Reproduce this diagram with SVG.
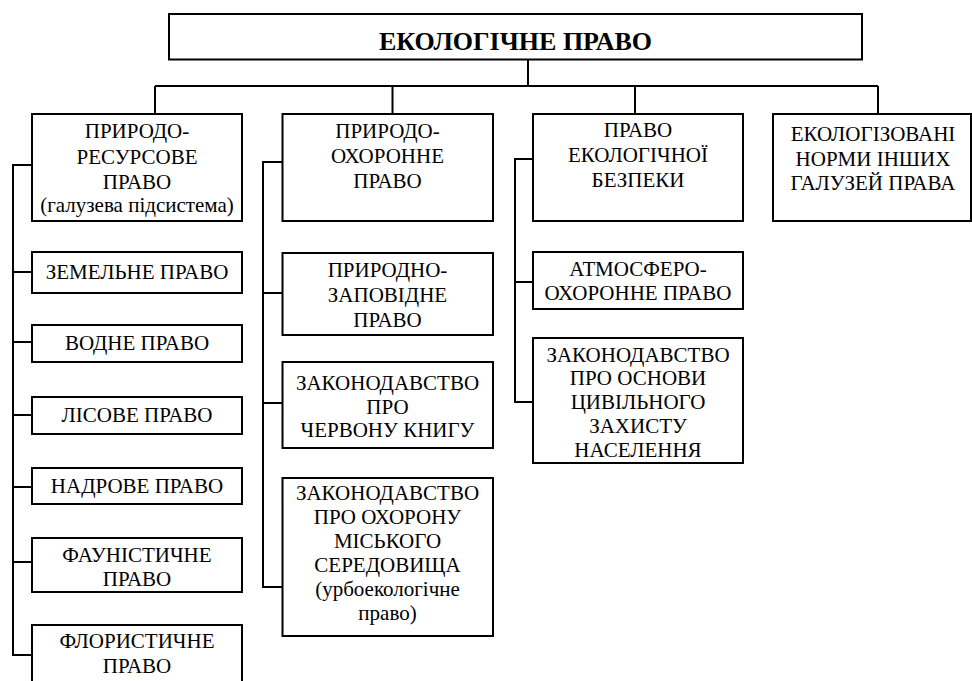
<svg xmlns="http://www.w3.org/2000/svg" width="972" height="681" viewBox="0 0 972 681">
<style>
.b{fill:#fff;stroke:#000;stroke-width:2}
.t{font-size:21px;fill:#000;text-anchor:middle}
.h{font-size:26px;font-weight:bold;fill:#000;text-anchor:middle}
.c{fill:none;stroke:#000;stroke-width:2}
</style>
<rect width="972" height="681" fill="#fff"/>
<g id="connectors" class="c">
<path d="M528 59.5V86M155 86H878M155 86V114M392.5 86V114M635 86V114M878 86V114"/>
<path d="M32 165H13V655H32M13 272H32M13 342H32M13 415H32M13 487H32M13 562H32"/>
<path d="M282.5 162H263V587H282.5M263 293H282.5M263 403H282.5"/>
<path d="M533 159H515V402H533M515 282H533"/>
</g>
<g font-family="Liberation Serif, Tinos, Times New Roman, DejaVu Serif, serif">
<g id="root"><rect class="b" x="169" y="14" width="693" height="45.5"/><text class="h" x="515.5" y="50">ЕКОЛОГІЧНЕ ПРАВО</text></g>
<g id="n1"><rect class="b" x="32" y="114" width="210" height="107"/><text class="t" x="137" y="138">ПРИРОДО-</text><text class="t" x="137" y="164">РЕСУРСОВЕ</text><text class="t" x="137" y="189">ПРАВО</text><text class="t" x="137" y="212">(галузева підсистема)</text></g>
<g id="n1a"><rect class="b" x="32" y="252" width="210" height="41"/><text class="t" x="137" y="279">ЗЕМЕЛЬНЕ ПРАВО</text></g>
<g id="n1b"><rect class="b" x="32" y="325" width="210" height="37"/><text class="t" x="137" y="350">ВОДНЕ ПРАВО</text></g>
<g id="n1c"><rect class="b" x="32" y="397" width="210" height="37"/><text class="t" x="137" y="422">ЛІСОВЕ ПРАВО</text></g>
<g id="n1d"><rect class="b" x="32" y="468" width="210" height="36"/><text class="t" x="137" y="493">НАДРОВЕ ПРАВО</text></g>
<g id="n1e"><rect class="b" x="32" y="538" width="210" height="54"/><text class="t" x="137" y="562">ФАУНІСТИЧНЕ</text><text class="t" x="137" y="586">ПРАВО</text></g>
<g id="n1f"><rect class="b" x="32" y="625" width="210" height="70"/><text class="t" x="137" y="648">ФЛОРИСТИЧНЕ</text><text class="t" x="137" y="673">ПРАВО</text></g>
<g id="n2"><rect class="b" x="282.5" y="114" width="210.5" height="107"/><text class="t" x="387.5" y="138">ПРИРОДО-</text><text class="t" x="387.5" y="163">ОХОРОННЕ</text><text class="t" x="387.5" y="188">ПРАВО</text></g>
<g id="n2a"><rect class="b" x="282.5" y="253" width="210.5" height="82"/><text class="t" x="387.5" y="277">ПРИРОДНО-</text><text class="t" x="387.5" y="302">ЗАПОВІДНЕ</text><text class="t" x="387.5" y="327">ПРАВО</text></g>
<g id="n2b"><rect class="b" x="282.5" y="362" width="210.5" height="86"/><text class="t" x="387.5" y="390">ЗАКОНОДАВСТВО</text><text class="t" x="387.5" y="414">ПРО</text><text class="t" x="387.5" y="437">ЧЕРВОНУ КНИГУ</text></g>
<g id="n2c"><rect class="b" x="282.5" y="478" width="210.5" height="158"/><text class="t" x="387.5" y="500">ЗАКОНОДАВСТВО</text><text class="t" x="387.5" y="524">ПРО ОХОРОНУ</text><text class="t" x="387.5" y="548">МІСЬКОГО</text><text class="t" x="387.5" y="572">СЕРЕДОВИЩА</text><text class="t" x="387.5" y="596">(урбоекологічне</text><text class="t" x="387.5" y="620">право)</text></g>
<g id="n3"><rect class="b" x="533" y="114" width="210" height="107"/><text class="t" x="638" y="137">ПРАВО</text><text class="t" x="638" y="162">ЕКОЛОГІЧНОЇ</text><text class="t" x="638" y="187">БЕЗПЕКИ</text></g>
<g id="n3a"><rect class="b" x="533" y="252" width="210" height="57"/><text class="t" x="638" y="276">АТМОСФЕРО-</text><text class="t" x="638" y="300">ОХОРОННЕ ПРАВО</text></g>
<g id="n3b"><rect class="b" x="533" y="338" width="210" height="125"/><text class="t" x="638" y="362">ЗАКОНОДАВСТВО</text><text class="t" x="638" y="385">ПРО ОСНОВИ</text><text class="t" x="638" y="409">ЦИВІЛЬНОГО</text><text class="t" x="638" y="433">ЗАХИСТУ</text><text class="t" x="638" y="457">НАСЕЛЕННЯ</text></g>
<g id="n4"><rect class="b" x="773" y="114" width="198" height="107"/><text class="t" x="873" y="141">ЕКОЛОГІЗОВАНІ</text><text class="t" x="873" y="166">НОРМИ ІНШИХ</text><text class="t" x="873" y="190">ГАЛУЗЕЙ ПРАВА</text></g>
</g>
</svg>
